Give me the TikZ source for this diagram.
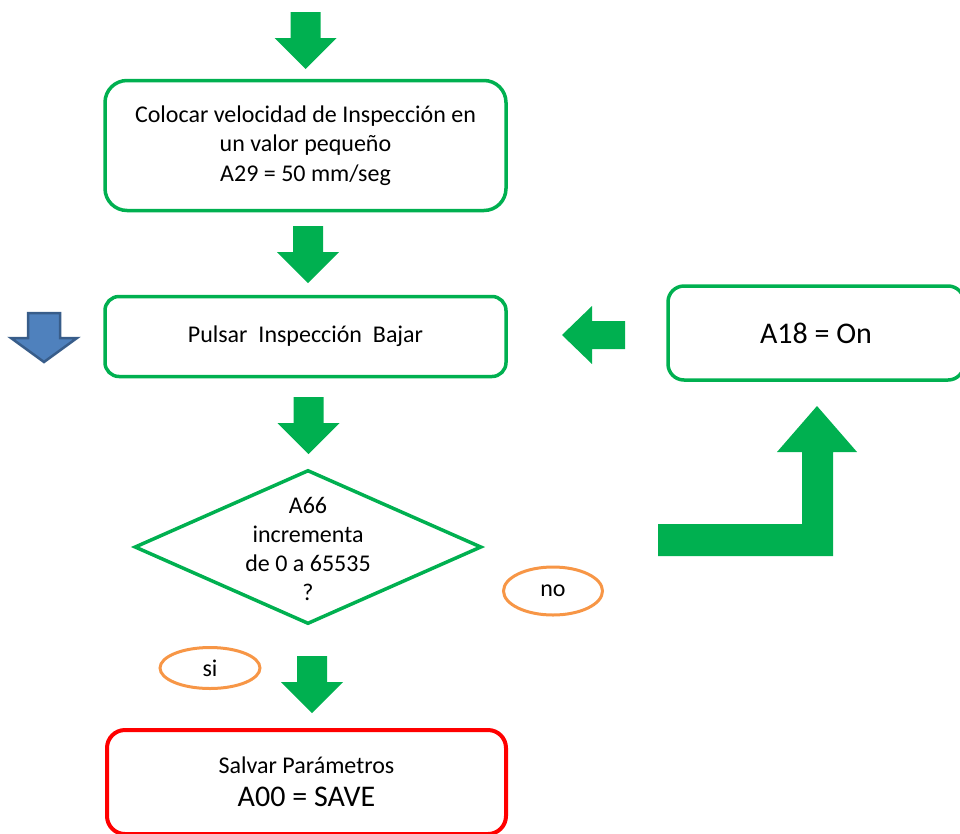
\documentclass[tikz,border=0pt]{standalone}
\usepackage{fontspec}
\setmainfont{Carlito}
\usetikzlibrary{shapes.geometric}
\definecolor{flowgreen}{HTML}{00B050}
\definecolor{flowred}{HTML}{FF0000}
\definecolor{floworange}{HTML}{F79646}
\definecolor{flowblue}{HTML}{4F81BD}
\definecolor{flowblueedge}{HTML}{385D8A}
\tikzset{
  pics/downarrow/.style={code={
    \fill[flowgreen] (-15,0) -- (15,0) -- (15,26) -- (31,26) -- (0,57)
      -- (-31,26) -- (-15,26) -- cycle;}}
}
\begin{document}
\begin{tikzpicture}[x=1pt,y=-1pt,
  font=\fontsize{24}{29.3}\selectfont,
  procbox/.style={draw=flowgreen,line width=3.5pt,align=center,inner sep=0pt},
  savebox/.style={draw=flowred,line width=4pt,align=center,inner sep=0pt},
  decision/.style={draw=flowgreen,line width=3.5pt,diamond,inner sep=0pt,
    minimum width=347,minimum height=154},
  answer/.style={draw=floworange,line width=3pt,ellipse,inner sep=0pt}]
\useasboundingbox (0,0) rectangle (960,833);
\clip (0,0) rectangle (960,833);
% process boxes
\node[procbox,rounded corners=22,minimum width=401,minimum height=130]
  (speed) at (305.5,145.5) {Colocar velocidad de Inspección en\\un valor pequeño\\A29 = 50 mm/seg};
\node[procbox,rounded corners=14,minimum width=401,minimum height=80]
  (press) at (305.5,336.5) {Pulsar\ \ Inspección\ \ Bajar};
\node[procbox,rounded corners=16,minimum width=296,minimum height=94,
  font=\fontsize{30}{36}\selectfont] (param) at (816,333) {A18 = On};
\node[decision] (check) at (308,547) {};
\node[align=center] (question) at ([yshift=-2]check.center)
  {A66\\incrementa\\de 0 a 65535\\?};
\node[savebox,rounded corners=18,minimum width=399,minimum height=104]
  (save) at (306.5,782) {Salvar Parámetros\\[4pt]{\fontsize{30}{34}\selectfont A00 = SAVE}};
% answers
\node[answer,minimum width=99,minimum height=48] (no) at (553,591) {no};
\node[answer,minimum width=100,minimum height=41] (si) at (210,668) {si};
% block arrows
\pic at (305.5,12) {downarrow};
\pic at (308,226) {downarrow};
\pic at (308.5,397) {downarrow};
\pic at (312,656) {downarrow};
\fill[flowgreen] (562,335) -- (592,306) -- (592,321) -- (625,321)
  -- (625,349) -- (592,349) -- (592,364) -- cycle;
\fill[flowgreen] (658,524) -- (802,524) -- (802,452) -- (777,452) -- (817,406)
  -- (857,452) -- (833,452) -- (833,556) -- (658,556) -- cycle;
\filldraw[fill=flowblue,draw=flowblueedge,line width=2.5pt]
  (28,313) -- (60,313) -- (60,338) -- (77,338) -- (44,362)
  -- (11,338) -- (28,338) -- cycle;
\end{tikzpicture}
\end{document}
